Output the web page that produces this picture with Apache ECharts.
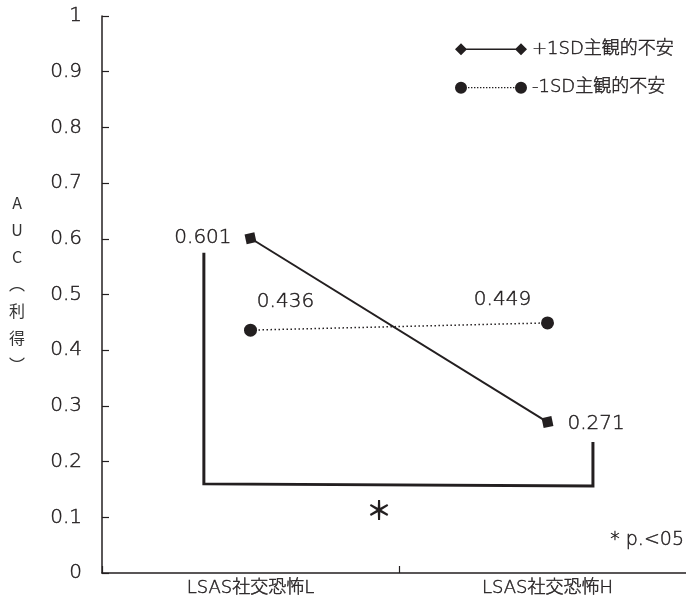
<!DOCTYPE html>
<html>
<head>
<meta charset="utf-8">
<script src="https://cdn.jsdelivr.net/npm/echarts@6/dist/echarts.min.js"></script>
<style>html,body{margin:0;padding:0;background:#fff;}#c{width:686px;height:608px;}</style>
</head>
<body>
<div id="c"></div>
<script>
// ---- data ----
var categories = ['LSAS社交恐怖L', 'LSAS社交恐怖H'];
var highAnxietyName = '+1SD主観的不安';
var lowAnxietyName = '-1SD主観的不安';
var highAnxiety = [0.601, 0.271];
var lowAnxiety = [0.436, 0.449];
var yMin = 0, yMax = 1, yStep = 0.1;
// significance bracket (x in category units 0..2 on a hidden value axis)
var bracketX = [0.343, 0.343, 1.653, 1.653];
var bracketY = [0.575, 0.160, 0.156, 0.235];
var sigMark = '＊';
var sigNote = '* p.<05';
var yName = ['A', 'U', 'C', '︵', '利', '得', '︶'];

// ---- styles ----
var ink = '#231f20';
var font = '"DejaVu Sans", "Noto Sans CJK JP", sans-serif';
var cjk = '"Noto Sans CJK JP", "Noto Sans", sans-serif';
var fw = 200;
var tb = 0.45; // slight text thickening

function diamondIcon() {
  return 'path://M0 6 L6 0 L12 6 L6 12 Z M6 5.2 L66 5.2 L66 6.8 L6 6.8 Z M60 6 L66 0 L72 6 L66 12 Z';
}
function circleIcon() {
  var p = 'M0 6 A6 6 0 1 1 12 6 A6 6 0 1 1 0 6 Z ';
  for (var x = 13; x < 59; x += 3) {
    p += 'M' + x + ' 5.3 L' + (x + 1.4) + ' 5.3 L' + (x + 1.4) + ' 6.7 L' + x + ' 6.7 Z ';
  }
  p += 'M60 6 A6 6 0 1 1 72 6 A6 6 0 1 1 60 6 Z';
  return 'path://' + p;
}
function thin(size) {
  return {fontSize: size, color: ink, fontFamily: font, fontWeight: fw, textBorderColor: ink, textBorderWidth: tb};
}

var chart = echarts.init(document.getElementById('c'), null, {renderer: 'canvas'});
var option = {
  backgroundColor: '#fff',
  animation: false,
  textStyle: {fontFamily: font, color: ink, fontWeight: fw},
  grid: {left: 102, top: 16, width: 594, height: 557, containLabel: false, outerBoundsMode: 'none'},
  legend: {
    orient: 'vertical',
    left: 450,
    top: 35,
    itemWidth: 72,
    itemHeight: 12,
    itemGap: 20,
    textStyle: thin(18),
    data: [
      {name: highAnxietyName, icon: diamondIcon(), itemStyle: {color: ink, borderWidth: 0}},
      {name: lowAnxietyName, icon: circleIcon(), itemStyle: {color: ink, borderWidth: 0}}
    ]
  },
  xAxis: [{
    type: 'category',
    data: categories,
    boundaryGap: true,
    axisLine: {lineStyle: {color: ink, width: 1.5}},
    axisTick: {show: true, inside: true, length: 7, lineStyle: {color: ink, width: 1.2}},
    axisLabel: Object.assign({margin: 6}, thin(18)),
    splitLine: {show: false}
  }, {
    type: 'value',
    min: 0, max: 2,
    show: false
  }],
  yAxis: {
    type: 'value',
    min: yMin, max: yMax, interval: yStep,
    axisLine: {show: true, lineStyle: {color: ink, width: 1.5}},
    axisTick: {show: true, inside: true, length: 7, lineStyle: {color: ink, width: 1.2}},
    axisLabel: Object.assign({margin: 20,
      formatter: function (v) { return String(Math.round(v * 10) / 10); }}, thin(20)),
    splitLine: {show: false}
  },
  series: [{
    name: highAnxietyName,
    type: 'line',
    data: highAnxiety.map(function (v, i) {
      var lab = i === 0
        ? {show: true, position: 'left', distance: 13}
        : {show: true, position: 'right', distance: 14, offset: [0, 2]};
      return {value: v, label: lab};
    }),
    symbol: 'rect',
    symbolSize: 10,
    symbolRotate: 12,
    itemStyle: {color: ink},
    lineStyle: {color: ink, width: 2},
    label: Object.assign({formatter: function (p) { return p.value.toFixed(3); }}, thin(20)),
    z: 3
  }, {
    name: lowAnxietyName,
    type: 'line',
    data: lowAnxiety.map(function (v, i) {
      var lab = i === 0
        ? {show: true, position: 'top', distance: 5, offset: [35, -7]}
        : {show: true, position: 'top', distance: 5, offset: [-45, -2]};
      return {value: v, label: lab};
    }),
    symbol: 'circle',
    symbolSize: 13,
    itemStyle: {color: ink},
    lineStyle: {color: ink, width: 1.5, type: [1.5, 2.5]},
    label: Object.assign({formatter: function (p) { return p.value.toFixed(3); }}, thin(20)),
    z: 3
  }, {
    name: 'bracket',
    type: 'line',
    xAxisIndex: 1,
    data: bracketX.map(function (x, i) { return [x, bracketY[i]]; }),
    symbol: 'none',
    lineStyle: {color: ink, width: 3, join: 'miter'},
    silent: true,
    z: 2
  }],
  graphic: [{
    type: 'text',
    x: 17,
    y: 284,
    style: {text: yName.join('\n'), fontSize: 16, lineHeight: 27, fill: '#333', fontFamily: cjk,
      align: 'center', verticalAlign: 'middle'}
  }, {
    type: 'text',
    x: 379,
    y: 510,
    style: {text: sigMark, fontSize: 26, fontWeight: 'bold', fill: ink, fontFamily: cjk, align: 'center', verticalAlign: 'middle'}
  }, {
    type: 'text',
    x: 684,
    y: 540,
    style: {text: sigNote, fontSize: 19, fill: ink, fontFamily: font, fontWeight: fw, stroke: ink, lineWidth: tb,
      align: 'right', verticalAlign: 'middle'}
  }]
};
chart.setOption(option);
</script>
</body>
</html>
